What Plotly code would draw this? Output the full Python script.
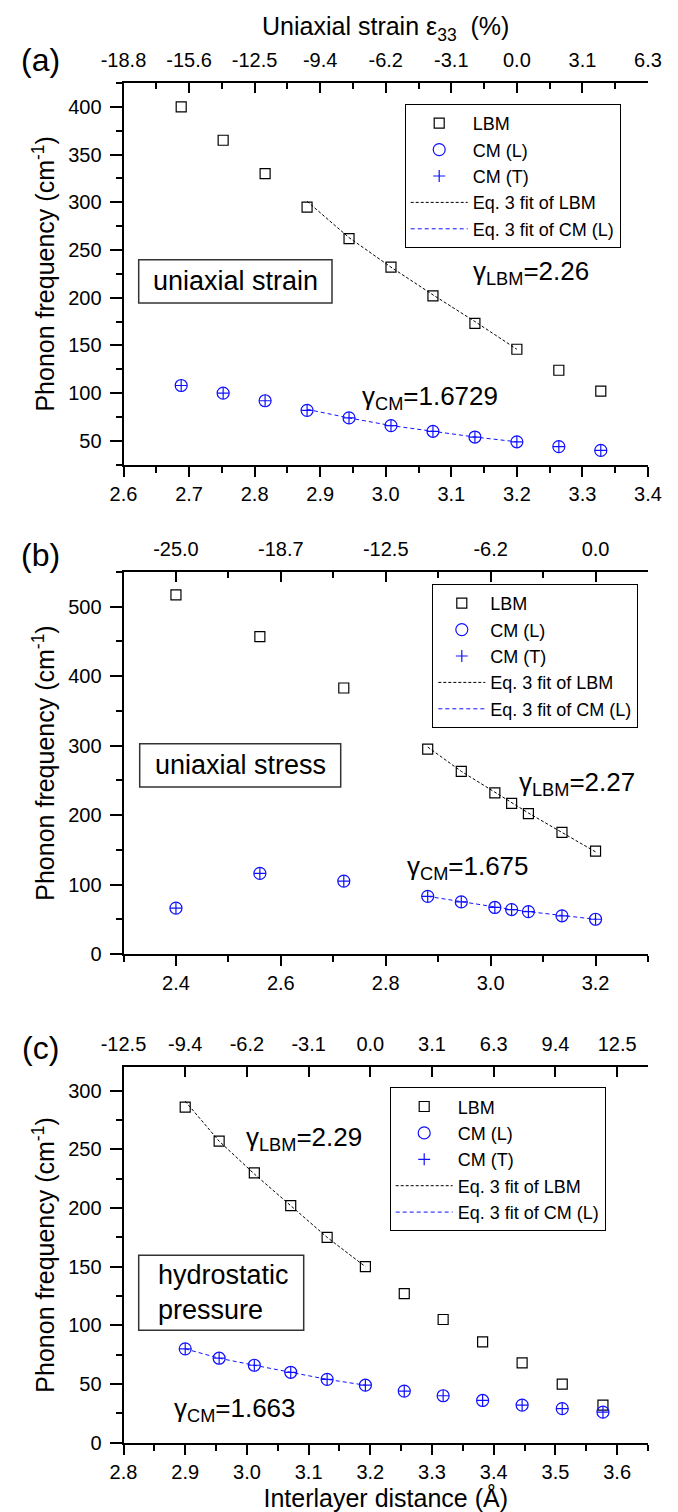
import plotly.graph_objects as go

W, H = 678, 1512

# ---------------- data ----------------
# (a) uniaxial strain
a_d = [2.688, 2.752, 2.816, 2.880, 2.944, 3.008, 3.072, 3.136, 3.200, 3.264, 3.328]
a_lbm = [400, 365, 330, 295, 262, 232, 202, 173, 146, 124, 102]
a_cml = [108, 100, 92, 82, 74, 66, 60, 54, 49, 44, 40]
a_cmt = [108, 100, 92, 82, 74, 66, 60, 54, 49, 44, 40]
a_fit_d = [2.880, 2.944, 3.008, 3.072, 3.136, 3.200]
a_fit_lbm = [301, 263, 232, 203, 175, 146]
a_fit_cm = [83, 74, 66, 60, 54, 49]
a_top_pos = [2.6, 2.7, 2.8, 2.9, 3.0, 3.1, 3.2, 3.3, 3.4]
a_top_lab = ["-18.8", "-15.6", "-12.5", "-9.4", "-6.2", "-3.1", "0.0", "3.1", "6.3"]

# (b) uniaxial stress
b_d = [2.400, 2.560, 2.720, 2.880, 2.944, 3.008, 3.040, 3.072, 3.136, 3.200]
b_lbm = [517, 457, 383, 295, 263, 232, 217, 202, 175, 148]
b_cml = [66, 116, 105, 83, 75, 67, 64, 61, 55, 50]
b_cmt = [66, 116, 105, 83, 75, 67, 64, 61, 55, 50]
b_fit_d = [2.880, 2.944, 3.008, 3.040, 3.072, 3.136, 3.200]
b_fit_lbm = [298, 263, 233, 218, 203, 175, 147]
b_fit_cm = [83, 75, 67, 64, 61, 55, 50]
b_top_pos = [2.4, 2.6, 2.8, 3.0, 3.2]
b_top_lab = ["-25.0", "-18.7", "-12.5", "-6.2", "0.0"]

# (c) hydrostatic pressure
c_d = [2.900, 2.955, 3.012, 3.071, 3.130, 3.192, 3.255, 3.318, 3.382, 3.446, 3.511, 3.577]
c_lbm = [286, 257, 230, 202, 175, 150, 127, 105, 86, 68, 50, 32]
c_cml = [80, 72, 66, 60, 54, 49, 44, 40, 36, 32, 29, 26]
c_cmt = [80, 72, 66, 60, 54, 49, 44, 40, 36, 32, 29, 26]
c_fit_d = [2.900, 2.955, 3.012, 3.071, 3.130, 3.192]
c_fit_lbm = [291, 257, 229, 202, 175, 150]
c_fit_cm = [80, 72, 66, 60, 54, 49]
c_top_pos = [2.8, 2.9, 3.0, 3.1, 3.2, 3.3, 3.4, 3.5, 3.6]
c_top_lab = ["-12.5", "-9.4", "-6.2", "-3.1", "0.0", "3.1", "6.3", "9.4", "12.5"]

names = ["LBM", "CM (L)", "CM (T)", "Eq. 3 fit of LBM", "Eq. 3 fit of CM (L)"]

BLUE = "#1010ff"
FONT = "Liberation Sans, Arial, sans-serif"


def px(x):
    return x / W


def py(y):
    return 1 - y / H


fig = go.Figure()

panels = [
    dict(d=a_d, lbm=a_lbm, cml=a_cml, cmt=a_cmt, fd=a_fit_d, fl=a_fit_lbm, fc=a_fit_cm,
         xb="x", xt="x2", y="y", legend="legend", tp=a_top_pos),
    dict(d=b_d, lbm=b_lbm, cml=b_cml, cmt=b_cmt, fd=b_fit_d, fl=b_fit_lbm, fc=b_fit_cm,
         xb="x3", xt="x4", y="y2", legend="legend2", tp=b_top_pos),
    dict(d=c_d, lbm=c_lbm, cml=c_cml, cmt=c_cmt, fd=c_fit_d, fl=c_fit_lbm, fc=c_fit_cm,
         xb="x5", xt="x6", y="y3", legend="legend3", tp=c_top_pos),
]

for p in panels:
    common = dict(xaxis=p["xb"], yaxis=p["y"], legend=p["legend"], hoverinfo="skip")
    fig.add_trace(go.Scatter(x=p["d"], y=p["lbm"], mode="markers", name=names[0],
                             marker=dict(symbol="square-open", size=10, color="black",
                                         line=dict(width=1.2, color="black")), **common))
    fig.add_trace(go.Scatter(x=p["d"], y=p["cml"], mode="markers", name=names[1],
                             marker=dict(symbol="circle-open", size=12, color=BLUE,
                                         line=dict(width=1.2, color=BLUE)), **common))
    fig.add_trace(go.Scatter(x=p["d"], y=p["cmt"], mode="markers", name=names[2],
                             marker=dict(symbol="cross-thin", size=8.5, color=BLUE,
                                         line=dict(width=1.2, color=BLUE)), **common))
    fig.add_trace(go.Scatter(x=p["fd"], y=p["fl"], mode="lines", name=names[3],
                             line=dict(color="black", width=1, dash="3px,2px"), **common))
    fig.add_trace(go.Scatter(x=p["fd"], y=p["fc"], mode="lines", name=names[4],
                             line=dict(color=BLUE, width=1, dash="4px,3px"), **common))
    # helper so that the top (strain) axis is drawn
    fig.add_trace(go.Scatter(x=p["tp"], y=[None] * len(p["tp"]), mode="markers",
                             xaxis=p["xt"], yaxis=p["y"], showlegend=False,
                             hoverinfo="skip"))

tickfont = dict(family=FONT, size=20, color="black")
titlefont = dict(family=FONT, size=25, color="black")

XD = [px(115.5), px(640)]
doms = [[py(456.7), py(75)], [py(946), py(564)], [py(1434.7), py(1059.2)]]


def bottom_axis(rng, dtick, minor, dom_anchor, title=None):
    d = dict(domain=XD, range=rng, anchor=dom_anchor, tickmode="linear", tick0=2.0,
             dtick=dtick, tickformat=".1f", ticks="outside", ticklen=10, tickwidth=1.6,
             tickcolor="black", showline=True, linecolor="black", linewidth=1.8,
             showgrid=False, zeroline=False, tickfont=tickfont, automargin=False,
             minor=dict(tickmode="linear", tick0=2.0, dtick=minor, ticks="outside",
                        ticklen=6, tickwidth=1.6, tickcolor="black", showgrid=False))
    if title:
        d["title"] = dict(text=title, font=titlefont, standoff=8)
    return d


def top_axis(rng, overl, anchor, pos, lab, minor, title=None):
    d = dict(overlaying=overl, side="top", anchor=anchor, range=rng, tickmode="array",
             tickvals=pos, ticktext=lab, ticks="inside", ticklen=10, tickwidth=1.6,
             tickcolor="black", showline=True, linecolor="black", linewidth=1.8,
             showgrid=False, zeroline=False, tickfont=tickfont, ticklabelstandoff=6,
             automargin=False)
    if minor:
        d["minor"] = dict(tickmode="linear", tick0=2.0, dtick=minor, ticks="inside",
                          ticklen=6, tickwidth=1.6, tickcolor="black", showgrid=False)
    if title:
        d["title"] = dict(text=title, font=titlefont, standoff=6)
    return d


def left_axis(rng, dom, anchor, dtick, minor):
    return dict(domain=dom, range=rng, anchor=anchor, tickmode="linear", tick0=0,
                dtick=dtick, ticks="outside", ticklen=12, tickwidth=1.6, tickcolor="black",
                showline=True, linecolor="black", linewidth=1.8, showgrid=False,
                zeroline=False, tickfont=tickfont, ticklabelstandoff=4, automargin=False,
                title=dict(text="Phonon frequency (cm<sup>-1</sup>)", font=titlefont,
                           standoff=6),
                minor=dict(tickmode="linear", tick0=0, dtick=minor, ticks="outside",
                           ticklen=6, tickwidth=1.6, tickcolor="black", showgrid=False))


def legend_box(x, y, iw):
    return dict(x=px(x), y=py(y), xref="paper", yref="paper", xanchor="left",
                yanchor="top", bordercolor="black", borderwidth=1,
                bgcolor="rgba(255,255,255,0)", itemwidth=iw,
                font=dict(family=FONT, size=18, color="black"), tracegroupgap=0)


fig.update_layout(
    width=W, height=H,
    margin=dict(l=0, r=0, t=0, b=0, pad=0, autoexpand=False),
    paper_bgcolor="white", plot_bgcolor="white",
    font=dict(family=FONT, color="black"),
    xaxis=bottom_axis([2.6, 3.4], 0.1, 0.05, "y"),
    xaxis2=top_axis([2.6, 3.4], "x", "y", a_top_pos, a_top_lab, 0.05,
                    title="Uniaxial strain ε<sub>33</sub>  (%)"),
    yaxis=left_axis([25, 425], doms[0], "x", 50, 25),
    xaxis3=bottom_axis([2.3, 3.3], 0.2, 0.1, "y2"),
    xaxis4=top_axis([2.3, 3.3], "x3", "y2", b_top_pos, b_top_lab, 0.1),
    yaxis2=left_axis([0, 550], doms[1], "x3", 100, 50),
    xaxis5=bottom_axis([2.8, 3.65], 0.1, 0.05, "y3", title="Interlayer distance (Å)"),
    xaxis6=top_axis([2.8, 3.65], "x5", "y3", c_top_pos, c_top_lab, None),
    yaxis3=left_axis([0, 320], doms[2], "x5", 50, 25),
    legend=legend_box(396.7, 96, 57),
    legend2=legend_box(424.3, 576, 47),
    legend3=legend_box(381.7, 1079.3, 57),
    showlegend=True,
)

# text boxes
boxes = [
    (130.7, 251.7, 324, 295, "uniaxial strain", "center", 227.3),
    (131.7, 735.7, 332.7, 779, "uniaxial stress", "center", 232.2),
    (130.7, 1247.3, 295.7, 1322.3, "hydrostatic<br>pressure", "left", 148.3),
]
for x0, y0, x1, y1, txt, al, tx in boxes:
    fig.add_shape(type="rect", xref="paper", yref="paper", x0=px(x0), x1=px(x1),
                  y0=py(y1), y1=py(y0), line=dict(color="#333333", width=1.5))
    fig.add_annotation(xref="paper", yref="paper", x=px(tx), y=py((y0 + y1) / 2),
                       xanchor="center" if al == "center" else "left", yanchor="middle",
                       text=txt, align=al, showarrow=False,
                       font=dict(family=FONT, size=27, color="black"))

gam = [
    (463, 264, "γ<sub>LBM</sub>=2.26"),
    (351.7, 389, "γ<sub>CM</sub>=1.6729"),
    (509.3, 775, "γ<sub>LBM</sub>=2.27"),
    (396.7, 859, "γ<sub>CM</sub>=1.675"),
    (235.7, 1130, "γ<sub>LBM</sub>=2.29"),
    (164, 1401, "γ<sub>CM</sub>=1.663"),
]
for x, y, t in gam:
    fig.add_annotation(xref="paper", yref="paper", x=px(x), y=py(y), xanchor="left",
                       yanchor="middle", text=t, showarrow=False,
                       font=dict(family=FONT, size=26, color="black"))

for x, y, t in [(32, 52, "(a)"), (32, 547, "(b)"), (32, 1040, "(c)")]:
    fig.add_annotation(xref="paper", yref="paper", x=px(x), y=py(y), xanchor="center",
                       yanchor="middle", text=t, showarrow=False,
                       font=dict(family=FONT, size=32, color="black"))

fig.write_html("out.html")
